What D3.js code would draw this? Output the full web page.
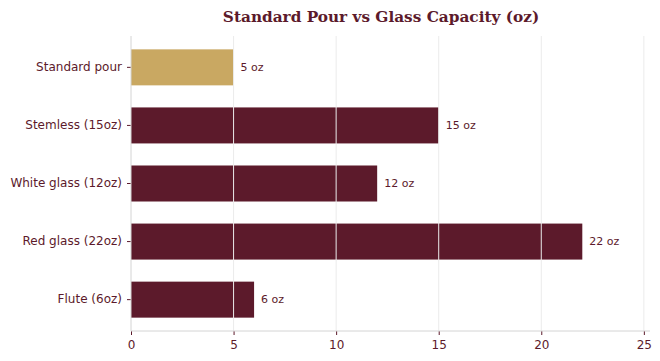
<!DOCTYPE html>
<html lang="en">
<head>
    <meta charset="UTF-8">
    <title>Standard Pour vs Glass Capacity</title>
    <script src="https://cdnjs.cloudflare.com/ajax/libs/d3/7.8.5/d3.min.js"></script>
    <style>
        body { margin: 0; background: #fff; }
    </style>
</head>
<body>
<div id="chart"></div>
<script>
    var categories = ["Standard pour", "Stemless (15oz)", "White glass (12oz)", "Red glass (22oz)", "Flute (6oz)"];
    var values = [5, 15, 12, 22, 6];
    var xTicks = [0, 5, 10, 15, 20, 25];

    var width = 660, height = 361;
    var maroon = "#5c1a2b", gold = "#c9a862";
    var plotLeft = 131, plotRight = 650, plotTop = 36, plotBottom = 331;

    var svg = d3.select("#chart").append("svg")
        .attr("width", width)
        .attr("height", height)
        .style("font-family", "DejaVu Sans, sans-serif");

    var x = d3.scaleLinear().domain([0, 25.3]).range([plotLeft, plotRight]);
    var y = d3.scaleBand().domain(categories).range([plotTop, plotBottom])
        .paddingInner(0.38).paddingOuter(0.23);

    // bars
    svg.selectAll("rect.bar")
        .data(categories)
        .enter()
        .append("rect")
        .attr("class", "bar")
        .attr("x", x(0))
        .attr("y", function (d) { return y(d); })
        .attr("width", function (d, i) { return x(values[i]) - x(0); })
        .attr("height", y.bandwidth())
        .attr("fill", function (d, i) { return i === 0 ? gold : maroon; });

    // grid on top of bars
    svg.selectAll("line.grid")
        .data(xTicks.slice(1))
        .enter()
        .append("line")
        .attr("x1", function (d) { return x(d); })
        .attr("x2", function (d) { return x(d); })
        .attr("y1", plotTop)
        .attr("y2", plotBottom)
        .attr("stroke", "#ebebeb")
        .attr("stroke-width", 1);

    // value labels
    svg.selectAll("text.val")
        .data(categories)
        .enter()
        .append("text")
        .attr("x", function (d, i) { return x(values[i]) + 7; })
        .attr("y", function (d) { return y(d) + y.bandwidth() / 2; })
        .attr("dy", "0.35em")
        .attr("font-size", 11)
        .attr("fill", maroon)
        .text(function (d, i) { return values[i] + " oz"; });

    // axes
    var xAxis = svg.append("g")
        .attr("transform", "translate(0," + plotBottom + ")")
        .call(d3.axisBottom(x).tickValues(xTicks).tickSize(4).tickPadding(5));
    xAxis.select(".domain").remove();
    xAxis.append("line").attr("x1", plotLeft).attr("x2", plotRight)
        .attr("stroke", "#d4d4d4");

    var yAxis = svg.append("g")
        .attr("transform", "translate(" + plotLeft + ",0)")
        .call(d3.axisLeft(y).tickSize(4).tickPadding(5));
    yAxis.select(".domain").remove();
    yAxis.append("line").attr("y1", plotTop).attr("y2", plotBottom)
        .attr("stroke", "#d4d4d4");

    svg.selectAll(".tick line").attr("stroke", maroon);
    svg.selectAll(".tick text").attr("fill", maroon)
        .style("font-size", "12px")
        .style("font-family", "DejaVu Sans, sans-serif");

    svg.append("text")
        .attr("x", 381)
        .attr("y", 22)
        .attr("text-anchor", "middle")
        .style("font-family", "DejaVu Serif, serif")
        .style("font-weight", "bold")
        .style("font-size", "15.3px")
        .attr("fill", maroon)
        .text("Standard Pour vs Glass Capacity (oz)");
</script>
</body>
</html>
